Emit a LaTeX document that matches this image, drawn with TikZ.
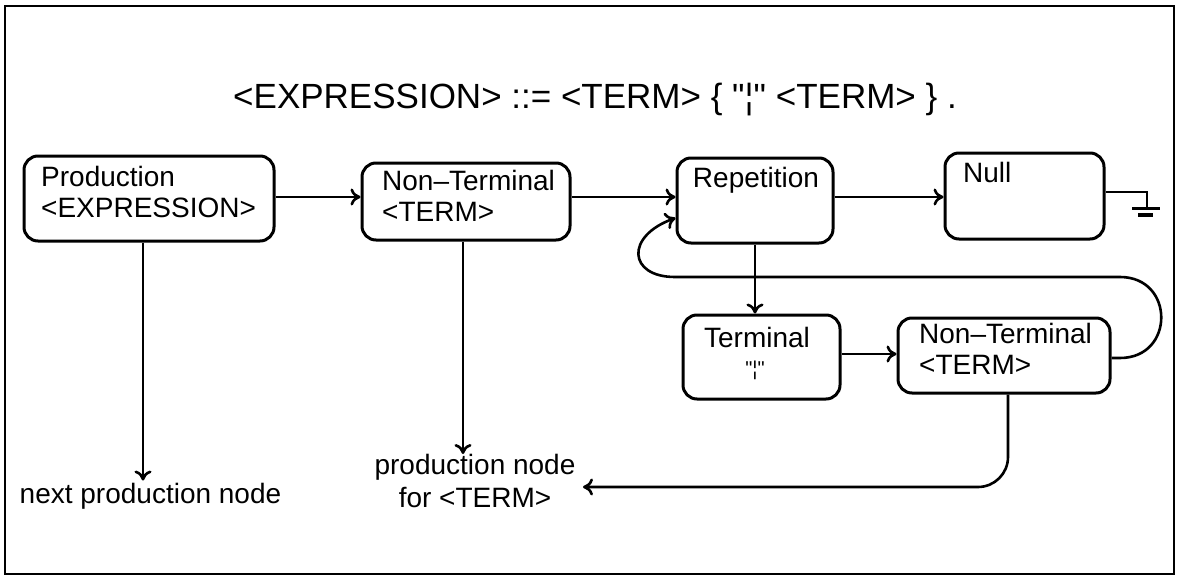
\documentclass[tikz,border=0pt]{standalone}
\usepackage{fontspec}
\setmainfont{Liberation Sans}[Ligatures=TeXOff]
\usetikzlibrary{arrows.meta}
\begin{document}
\begin{tikzpicture}[x=1pt,y=-1pt,
  box/.style={draw, line width=3pt, rounded corners=14pt, inner sep=0pt},
  txt/.style={inner sep=0pt, align=left, font=\fontsize{28}{31}\selectfont},
  ln/.style={line width=2.6pt},
  arr/.style={ln, -{To[length=10pt,width=17pt]}},
]
\useasboundingbox (0,0) rectangle (1181,578);
\draw[line width=2.8pt] (5,6) rectangle (1174,574);
\node[font=\fontsize{35}{40}\selectfont, anchor=base, inner sep=0pt] (title) at (595,108) {<EXPRESSION> ::= <TERM> \{ "¦" <TERM> \} .};

% boxes
\node[box, minimum width=250pt, minimum height=85pt] (prod) at (149,198.5) {};
\node[box, minimum width=208pt, minimum height=77pt] (nt1) at (466,201.5) {};
\node[box, minimum width=156pt, minimum height=85pt] (rep) at (755,200.5) {};
\node[box, minimum width=159pt, minimum height=86pt] (nul) at (1024.5,196) {};
\node[box, minimum width=157pt, minimum height=84pt] (term) at (761.5,357) {};
\node[box, minimum width=212pt, minimum height=75pt] (nt2) at (1004,355.5) {};

% box texts
\node[txt, anchor=north west] (prodt) at (41,166) {Production\\<EXPRESSION>};
\node[txt, anchor=north west] (nt1t) at (382,170) {Non–Terminal\\<TERM>};
\node[txt, anchor=north] (rept) at (756,167) {Repetition};
\node[txt, anchor=north west] (nult) at (963,162) {Null};
\node[txt, anchor=north] (termt) at (757,327) {Terminal};
\node[inner sep=0pt, anchor=base, font=\fontsize{20}{20}\selectfont] (termq) at (755,375) {"¦"};
\node[txt, anchor=north west] (nt2t) at (919,323) {Non–Terminal\\<TERM>};

% free texts
\node[txt, anchor=base, inner sep=2pt] (nextp) at (150.5,503) {next production node};
\node[txt, anchor=north, align=center, font=\fontsize{28}{33}\selectfont] (ptext) at (475,454) {production node\\for <TERM>};

% coordinates
\coordinate (row) at (0,197);
\coordinate (row2) at (0,354);
\coordinate (grow) at (0,192);
\coordinate (gnd) at (1147,207);
\coordinate (lp) at (0,358);
\coordinate (lpin) at (0,218);
\coordinate (ret) at (583,487);

% connectors
\draw[arr] (prod.east |- row) -- (nt1.west |- row);
\draw[arr] (nt1.east |- row) -- (rep.west |- row);
\draw[arr] (rep.east |- row) -- (nul.west |- row);
\draw[ln] (nul.east |- grow) -| (gnd);
\draw[line width=3pt] (1132,208) -- (1160,208);
\draw[line width=3.5pt] (1138,215) -- (1153,215);
\draw[arr] (rep.south) -- (term.north -| rep.south);
\draw[arr] (term.east |- row2) -- (nt2.west |- row2);
\draw[arr] (nt2.east |- lp) -- (1120,358) .. controls (1175,358) and (1175,277) .. (1120,277)
  -- (675,277) .. controls (628,277) and (625,236) .. (rep.west |- lpin);
\draw[arr] ([xshift=-6pt]prod.south) -- ([xshift=-6pt]prod.south |- nextp.north);
\draw[arr] ([xshift=-3pt]nt1.south) -- ([xshift=-3pt]nt1.south |- ptext.north);
\draw[arr, rounded corners=30pt] ([xshift=4pt]nt2.south) |- (ret);
\end{tikzpicture}
\end{document}
